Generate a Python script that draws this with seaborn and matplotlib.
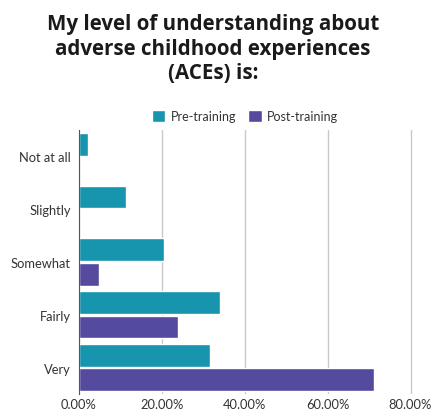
import matplotlib
matplotlib.use("Agg")
import matplotlib.pyplot as plt
import seaborn as sns
import pandas as pd
from matplotlib.ticker import FuncFormatter
from matplotlib.patches import Patch

categories = ["Not at all", "Slightly", "Somewhat", "Fairly", "Very"]
pre_training = [2.2, 11.3, 20.5, 34.0, 31.7]
post_training = [0.0, 0.0, 4.8, 23.8, 71.3]
series = ["Pre-training", "Post-training"]
x_ticks = [0, 20, 40, 60, 80]

df = pd.DataFrame({
    "level": categories * 2,
    "pct": pre_training + post_training,
    "group": [series[0]] * len(categories) + [series[1]] * len(categories),
})

sns.set_theme(style="white")
plt.rcParams["font.family"] = ["Lato", "DejaVu Sans"]

fig = plt.figure(figsize=(4.36, 4.14), dpi=100)
ax = fig.add_axes([79 / 436, 1 - 395 / 414, (413 - 79) / 436, (395 - 131) / 414])

palette = {"Pre-training": "#1794ae", "Post-training": "#544a9e"}
sns.barplot(data=df, y="level", x="pct", hue="group", order=categories,
            hue_order=series, palette=palette, orient="h", width=0.92,
            gap=0.06, saturation=1, ax=ax, legend=False)

ax.set_xlim(0, 80.6)
ax.set_ylim(len(categories) - 0.5, -0.5)
ax.set_xticks(x_ticks)
ax.xaxis.set_major_formatter(FuncFormatter(lambda v, p: f"{v:.2f}%"))
ax.grid(axis="x", color="#c9c9c9", linewidth=1.0)
ax.set_axisbelow(True)
for s in ["top", "right", "bottom"]:
    ax.spines[s].set_visible(False)
ax.spines["left"].set_color("#555555")
ax.spines["left"].set_linewidth(0.8)
ax.set_xlabel("")
ax.set_ylabel("")
ax.tick_params(axis="both", length=0, labelsize=9.3, labelcolor="#333333", pad=6)
ax.tick_params(axis="x", pad=3)

# Legend
handles = [Patch(facecolor=palette[s], label=s) for s in series]
fig.legend(handles=handles, loc="center", bbox_to_anchor=(245 / 436, 1 - 117 / 414),
           ncol=2, frameon=False, fontsize=9, handlelength=1.1, handleheight=1.1,
           handletextpad=0.4, columnspacing=1.0, labelcolor="#333333")

fig.text(213 / 436, 1 - 49 / 414,
         "My level of understanding about\nadverse childhood experiences\n(ACEs) is:",
         ha="center", va="center", fontsize=14.8, fontweight="bold",
         family=["Open Sans", "DejaVu Sans"], color="#1a1a1a", linespacing=1.22)

fig.savefig("out.png", dpi=100)
